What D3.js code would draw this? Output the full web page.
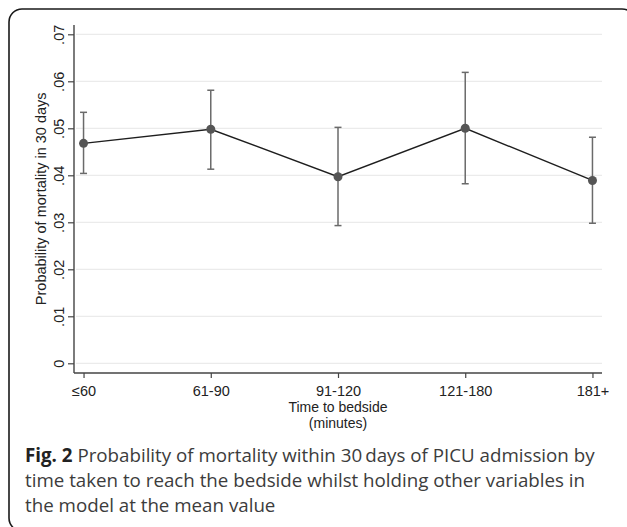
<!DOCTYPE html>
<html>
<head>
<meta charset="utf-8">
<script src="https://cdn.jsdelivr.net/npm/d3@7"></script>
<style>
  body { margin: 0; background: #fff; }
  svg { display: block; }
</style>
</head>
<body>
<div id="chart"></div>
<script>
const svgWidth = 627;
const svgHeight = 527;

// data
const categories = ['≤60', '61-90', '91-120', '121-180', '181+'];
const estimate = [0.0468, 0.0498, 0.0397, 0.0500, 0.0389];
const lower = [0.0404, 0.0413, 0.0293, 0.0382, 0.0298];
const upper = [0.0534, 0.0581, 0.0502, 0.0619, 0.0481];
const yTicks = [0, 0.01, 0.02, 0.03, 0.04, 0.05, 0.06, 0.07];
const yTickLabels = ['0', '.01', '.02', '.03', '.04', '.05', '.06', '.07'];
const captionLines = [
    ['Fig. 2', ' Probability of mortality within 30\u2009days of PICU admission by'],
    ['', 'time taken to reach the bedside whilst holding other variables in'],
    ['', 'the model at the mean value']
];

let plot = { left: 74, right: 602, top: 25, bottom: 373 };

let svg = d3.select('#chart')
    .append('svg')
    .attr('width', svgWidth)
    .attr('height', svgHeight);

// outer frame
svg.append('rect')
    .attr('x', 9).attr('y', 9)
    .attr('width', 626).attr('height', 522)
    .attr('rx', 13)
    .attr('fill', 'none')
    .attr('stroke', '#1a1a1a')
    .attr('stroke-width', 1.6);

let x = d3.scalePoint()
    .domain(categories)
    .range([plot.left, plot.right])
    .padding(0.075);

let y = d3.scaleLinear()
    .domain([0, 0.07])
    .range([363.3, 34.3]);

// gridlines
svg.append('g').selectAll('line')
    .data(yTicks)
    .enter()
    .append('line')
    .attr('x1', plot.left + 2).attr('x2', plot.right)
    .attr('y1', d => y(d)).attr('y2', d => y(d))
    .attr('stroke', '#e6e6e6')
    .attr('stroke-width', 1);

// y axis
let yAxis = svg.append('g')
    .attr('transform', `translate(${plot.left},0)`)
    .call(d3.axisLeft(y).tickValues(yTicks).tickSize(6).tickPadding(4)
        .tickFormat((d, i) => yTickLabels[i]));
yAxis.select('.domain').remove();
yAxis.selectAll('line').attr('stroke', '#444').attr('stroke-width', 1.2);
yAxis.selectAll('text')
    .attr('transform', 'rotate(-90)')
    .attr('x', 0)
    .attr('dy', 0)
    .attr('y', -10)
    .attr('text-anchor', 'middle')
    .attr('font-family', 'Liberation Sans, Arial, sans-serif')
    .attr('font-size', 14.5)
    .attr('fill', '#222');

// x axis
let xAxis = svg.append('g')
    .attr('transform', `translate(0,${plot.bottom})`)
    .call(d3.axisBottom(x).tickSize(5).tickPadding(6));
xAxis.select('.domain').remove();
xAxis.selectAll('line').attr('stroke', '#444').attr('stroke-width', 1.2);
xAxis.selectAll('text')
    .attr('dy', 0)
    .attr('y', 23)
    .attr('font-family', 'Liberation Sans, Arial, sans-serif')
    .attr('font-size', 14.5)
    .attr('fill', '#222');

// axis lines
svg.append('line')
    .attr('x1', plot.left).attr('x2', plot.left)
    .attr('y1', plot.top).attr('y2', plot.bottom)
    .attr('stroke', '#444').attr('stroke-width', 1.4);
svg.append('line')
    .attr('x1', plot.left).attr('x2', plot.right)
    .attr('y1', plot.bottom).attr('y2', plot.bottom)
    .attr('stroke', '#444').attr('stroke-width', 1.4);

// axis titles
svg.append('text')
    .attr('x', (plot.left + plot.right) / 2).attr('y', 411.5)
    .attr('text-anchor', 'middle')
    .attr('font-family', 'Liberation Sans, Arial, sans-serif')
    .attr('font-size', 14)
    .attr('fill', '#222')
    .text('Time to bedside');
svg.append('text')
    .attr('x', (plot.left + plot.right) / 2).attr('y', 427.5)
    .attr('text-anchor', 'middle')
    .attr('font-family', 'Liberation Sans, Arial, sans-serif')
    .attr('font-size', 14)
    .attr('fill', '#222')
    .text('(minutes)');
svg.append('text')
    .attr('transform', `translate(46,${(y(0) + y(0.07)) / 2})rotate(-90)`)
    .attr('text-anchor', 'middle')
    .attr('font-family', 'Liberation Sans, Arial, sans-serif')
    .attr('font-size', 14.5)
    .attr('fill', '#222')
    .text('Probability of mortality in 30 days');

// error bars
let bars = svg.append('g').selectAll('g')
    .data(categories)
    .enter()
    .append('g')
    .attr('stroke', '#6a6a6a')
    .attr('stroke-width', 1.5);
bars.append('line')
    .attr('x1', d => x(d)).attr('x2', d => x(d))
    .attr('y1', (d, i) => y(lower[i])).attr('y2', (d, i) => y(upper[i]));
bars.append('line')
    .attr('x1', d => x(d) - 3.5).attr('x2', d => x(d) + 3.5)
    .attr('y1', (d, i) => y(lower[i])).attr('y2', (d, i) => y(lower[i]));
bars.append('line')
    .attr('x1', d => x(d) - 3.5).attr('x2', d => x(d) + 3.5)
    .attr('y1', (d, i) => y(upper[i])).attr('y2', (d, i) => y(upper[i]));

// connecting line
let line = d3.line()
    .x((d, i) => x(categories[i]))
    .y(d => y(d));
svg.append('path')
    .datum(estimate)
    .attr('d', line)
    .attr('fill', 'none')
    .attr('stroke', '#1e1e1e')
    .attr('stroke-width', 1.4);

// points
svg.append('g').selectAll('circle')
    .data(estimate)
    .enter()
    .append('circle')
    .attr('cx', (d, i) => x(categories[i]))
    .attr('cy', d => y(d))
    .attr('r', 4.5)
    .attr('fill', '#555');

// caption
let caption = svg.append('g')
    .attr('font-family', 'Open Sans, sans-serif')
    .attr('fill', '#3c3c3c');
let capLines = caption.selectAll('text')
    .data(captionLines)
    .enter()
    .append('text')
    .attr('x', 25)
    .attr('y', (d, i) => 462 + i * 25)
    .attr('font-size', 18);
capLines.append('tspan')
    .attr('font-weight', 'bold')
    .attr('fill', '#222')
    .text(d => d[0]);
capLines.append('tspan')
    .text(d => d[1]);

// fit caption width to the first line's span
let w0 = capLines.node().getComputedTextLength();
let fs = 18 * 570 / w0;
capLines.attr('font-size', fs);
</script>
</body>
</html>
